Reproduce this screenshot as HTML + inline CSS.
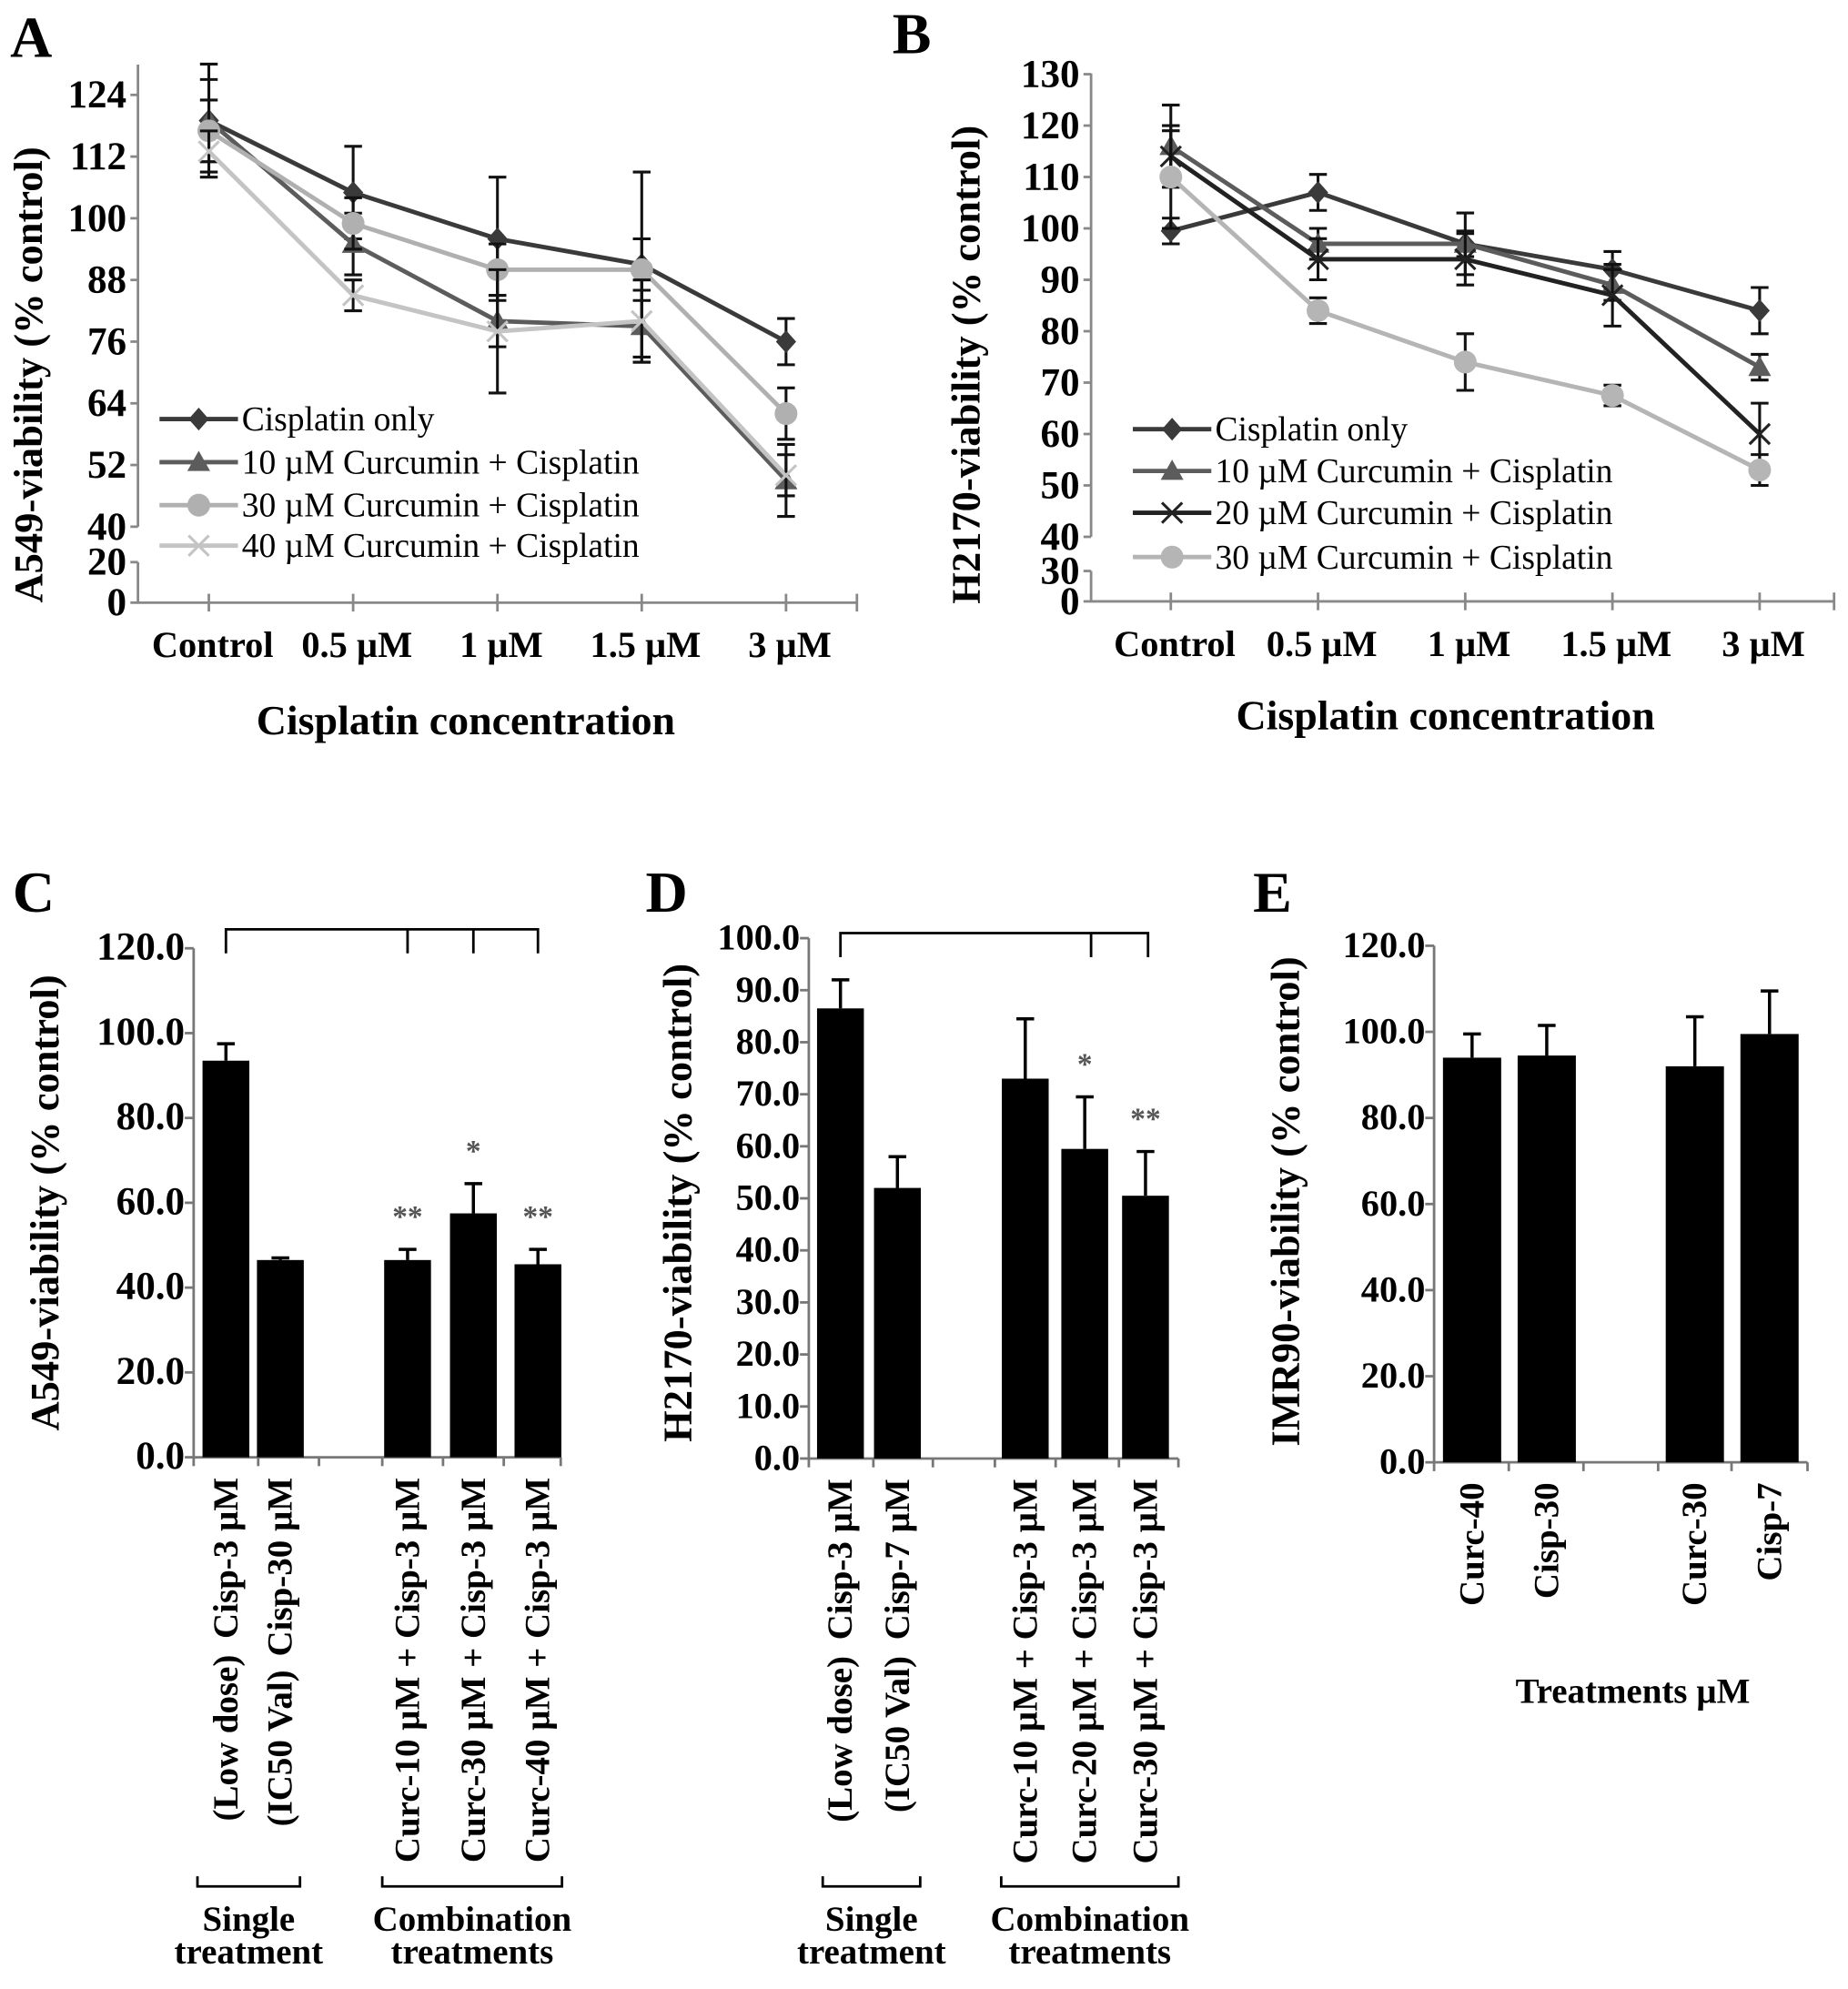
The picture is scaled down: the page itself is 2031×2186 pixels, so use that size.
<!DOCTYPE html>
<html><head><meta charset="utf-8"><style>
html,body{margin:0;padding:0;background:#fff}
svg{display:block}
text{font-family:"Liberation Serif",serif;font-weight:bold;fill:#000}
</style></head><body>
<svg id="fig" width="2031" height="2186" viewBox="0 0 1460 1571" preserveAspectRatio="none" xmlns="http://www.w3.org/2000/svg">
<text x="8" y="45" font-size="46">A</text>
<text x="705" y="42" font-size="46">B</text>
<text x="10" y="720" font-size="46">C</text>
<text x="510" y="720" font-size="46">D</text>
<text x="990" y="720" font-size="46">E</text>
</svg>
<script>
// ---- Panel A data ----
const aCategories = ["Control","0.5 µM","1 µM","1.5 µM","3 µM"];
const aTicks = [124,112,100,88,76,64,52,40,20,0];
const aSeriesNames = ["Cisplatin only","10 µM Curcumin + Cisplatin","30 µM Curcumin + Cisplatin","40 µM Curcumin + Cisplatin"];
const aCis = [119,105,96,91,76];
const aCisErr = [11,9,12,18,4.5];
const aC10 = [119,95,80,79,49];
const aC10Err = [8,6,5,7,7];
const aC30 = [117,99,90,90,62];
const aC30Err = [6,5,5,6,5];
const aC40 = [113,85,78,80,50];
const aC40Err = [4,3,12,8,4];
// ---- Panel B data ----
const bCategories = ["Control","0.5 µM","1 µM","1.5 µM","3 µM"];
const bTicks = [130,120,110,100,90,80,70,60,50,40,30,0];
const bSeriesNames = ["Cisplatin only","10 µM Curcumin + Cisplatin","20 µM Curcumin + Cisplatin","30 µM Curcumin + Cisplatin"];
const bCis = [99.5,107,97,92,84];
const bCisErr = [2.5,3.5,2.5,3.5,4.5];
const bC10 = [116,97,97,89,73];
const bC10Err = [8,3,6,3,2.5];
const bC20 = [114,94,94,87,60];
const bC20Err = [5,4,5,6,6];
const bC30 = [110,84,74,67.5,53];
const bC30Err = [10,2.5,5.5,2,3];
// ---- Panel C data ----
const cLabels = ["Cisp-3 µM","Cisp-30 µM","Curc-10 µM + Cisp-3 µM","Curc-30 µM + Cisp-3 µM","Curc-40 µM + Cisp-3 µM"];
const cValues = [93.5,46.5,46.5,57.5,45.5];
const cErrors = [4,0.5,2.5,7,3.5];
const cStars = ["","","**","*","**"];
const cTicks = [0,20,40,60,80,100,120];
// ---- Panel D data ----
const dLabels = ["Cisp-3 µM","Cisp-7 µM","Curc-10 µM + Cisp-3 µM","Curc-20 µM + Cisp-3 µM","Curc-30 µM + Cisp-3 µM"];
const dValues = [86.5,52,73,59.5,50.5];
const dErrors = [5.5,6,11.5,10,8.5];
const dStars = ["","","","*","**"];
const dTicks = [0,10,20,30,40,50,60,70,80,90,100];
// ---- Panel E data ----
const eLabels = ["Curc-40","Cisp-30","Curc-30","Cisp-7"];
const eValues = [94,94.5,92,99.5];
const eErrors = [5.5,7,11.5,10];
const eTicks = [0,20,40,60,80,100,120];

const NS="http://www.w3.org/2000/svg";
const svg=document.getElementById('fig');
function mk(tag,attrs,parent){const e=document.createElementNS(NS,tag);for(const k in attrs)e.setAttribute(k,attrs[k]);(parent||svg).appendChild(e);return e;}

function marker(g,type,x,y,color,name){
  let m;
  if(type==='diamond') m=mk('polygon',{points:`${x},${y-9} ${x+8},${y} ${x},${y+9} ${x-8},${y}`,fill:color},g);
  else if(type==='triangle') m=mk('polygon',{points:`${x},${y-9} ${x+9},${y+7} ${x-9},${y+7}`,fill:color},g);
  else if(type==='circle') m=mk('circle',{cx:x,cy:y,r:9,fill:color},g);
  else { m=mk('path',{d:`M${x-8},${y-8}L${x+8},${y+8}M${x-8},${y+8}L${x+8},${y-8}`,stroke:color,'stroke-width':2.2,fill:'none'},g); }
  
  
}

function lineChart(cfg){
  const g=mk('g',{});
  
  
  const yv=cfg.yScale;
  const ax=mk('path',{d:`M${cfg.x0},${cfg.top}V${yv(cfg.breakHi)}M${cfg.x0},${yv(cfg.breakLo)}V${cfg.y0}H${cfg.xEnd}`,stroke:'#888','stroke-width':2,fill:'none'},g);
  
  
  cfg.ticks.forEach(t=>{
    const y=yv(t);
    const tk=mk('line',{x1:cfg.x0-6,x2:cfg.x0,y1:y,y2:y,stroke:'#888','stroke-width':2},g);
    
    
    const tl=mk('text',{x:cfg.x0-9,y:y+10,'font-size':31,'text-anchor':'end'},g);
    tl.textContent=t;
    
    
  });
  const xs=cfg.categories.map((c,i)=>cfg.cx0+i*cfg.cstep);
  xs.forEach((x,i)=>{
    const tk=mk('line',{x1:x,x2:x,y1:cfg.y0-7,y2:cfg.y0+7,stroke:'#888','stroke-width':2},g);
    
    
    const tl=mk('text',{x:x+3,y:cfg.y0+43,'font-size':29,'text-anchor':'middle'},g);
    tl.textContent=cfg.categories[i];
    
    
  });
  const et=mk('line',{x1:cfg.xEnd,x2:cfg.xEnd,y1:cfg.y0-7,y2:cfg.y0+7,stroke:'#888','stroke-width':2},g);
  
  
  cfg.series.forEach((s,si)=>{
    const pts=s.values.map((v,i)=>[xs[i],yv(v)]);
    const pl=mk('polyline',{points:pts.map(p=>p.join(',')).join(' '),stroke:s.color,'stroke-width':3.5,fill:'none'},g);
    
    
    s.values.forEach((v,i)=>{
      const yt=yv(v+s.err[i]), yb=yv(v-s.err[i]), x=xs[i];
      const eb=mk('path',{d:`M${x},${yt}V${yb}M${x-7},${yt}H${x+7}M${x-7},${yb}H${x+7}`,stroke:'#111','stroke-width':2.2,fill:'none'},g);
      
      
    });
    pts.forEach(p=>marker(g,s.marker,p[0],p[1],s.color,'point'));
    const ly=cfg.legY[si];
    const ll=mk('line',{x1:cfg.legX,x2:cfg.legX+62,y1:ly,y2:ly,stroke:s.color,'stroke-width':3.5},g);
    
    
    marker(g,s.marker,cfg.legX+31,ly,s.color,'legend-marker');
    const lt=mk('text',{x:cfg.legX+65,y:ly+9,'font-size':27,style:'font-weight:normal'},g);
    lt.textContent=s.label;
    
    
  });
  const yt=mk('text',{x:0,y:0,'font-size':32,'text-anchor':'middle',transform:`translate(${cfg.ylabX},${cfg.ylabY}) rotate(-90)`},g);
  yt.textContent=cfg.ylabel;
  
  
  const xt=mk('text',{x:cfg.xtX,y:cfg.xtY,'font-size':33,'text-anchor':'middle'},g);
  xt.textContent='Cisplatin concentration';
  
  
}

lineChart({name:'chart-a',x0:109,top:51,y0:476,xEnd:677,breakHi:40,breakLo:20,
  yScale:v=>v>=40?416-(v-40)*4.06:476-v*(476-444)/20,ticks:aTicks,categories:aCategories,cx0:165,cstep:114,
  series:[{label:aSeriesNames[0],values:aCis,err:aCisErr,color:'#3a3a3a',marker:'diamond'},
          {label:aSeriesNames[1],values:aC10,err:aC10Err,color:'#5c5c5c',marker:'triangle'},
          {label:aSeriesNames[2],values:aC30,err:aC30Err,color:'#b0b0b0',marker:'circle'},
          {label:aSeriesNames[3],values:aC40,err:aC40Err,color:'#c4c4c4',marker:'x'}],
  legX:126,legY:[331,365,399,431],ylabel:'A549-viability (% control)',ylabX:33,ylabY:296,xtX:368,xtY:580});

lineChart({name:'chart-b',x0:862,top:58,y0:475,xEnd:1449,breakHi:40,breakLo:30,
  yScale:v=>v>=40?424-(v-40)*4.06:475-v*(475-451)/30,ticks:bTicks,categories:bCategories,cx0:925,cstep:116.3,
  series:[{label:bSeriesNames[0],values:bCis,err:bCisErr,color:'#3a3a3a',marker:'diamond'},
          {label:bSeriesNames[1],values:bC10,err:bC10Err,color:'#5c5c5c',marker:'triangle'},
          {label:bSeriesNames[2],values:bC20,err:bC20Err,color:'#222',marker:'x'},
          {label:bSeriesNames[3],values:bC30,err:bC30Err,color:'#b5b5b5',marker:'circle'}],
  legX:895,legY:[339,372,405,440],ylabel:'H2170-viability (% control)',ylabX:774,ylabY:288,xtX:1142,xtY:576});

function barChart(cfg){
  const g=mk('g',{});
  
  
  const yv=v=>cfg.y0-(v-0)*(cfg.y0-cfg.yTop)/cfg.max;
  const ax=mk('path',{d:`M${cfg.x0},${yv(cfg.max)}V${cfg.y0}H${cfg.xEnd}`,stroke:'#777','stroke-width':2,fill:'none'},g);
  
  
  cfg.ticks.forEach(t=>{
    const y=yv(t);
    const tk=mk('line',{x1:cfg.x0-7,x2:cfg.x0,y1:y,y2:y,stroke:'#777','stroke-width':2},g);
    
    
    const tl=mk('text',{x:cfg.x0-7,y:y+9,'font-size':cfg.tickFont,'text-anchor':'end'},g);
    tl.textContent=t.toFixed(1);
    
    
  });
  cfg.bounds.forEach(b=>{
    const tk=mk('line',{x1:b,x2:b,y1:cfg.y0,y2:cfg.y0+7,stroke:'#777','stroke-width':2},g);
    
    
  });
  cfg.values.forEach((v,i)=>{
    const x=cfg.xs[i], w=cfg.barW;
    const r=mk('rect',{x:x-w/2,y:yv(v),width:w,height:cfg.y0-yv(v),fill:'#000'},g);
    
    
    const yt=yv(v+cfg.errors[i]);
    const eb=mk('path',{d:`M${x},${yv(v)}V${yt}M${x-7},${yt}H${x+7}`,stroke:'#000','stroke-width':2.5,fill:'none'},g);
    
    
    if(cfg.stars && cfg.stars[i]){
      const s=mk('text',{x:x,y:yt-18,'font-size':24,'text-anchor':'middle',style:'fill:#555'},g);
      s.textContent=cfg.stars[i];
      
      
    }
    const lt=mk('text',{x:0,y:0,'font-size':28,'text-anchor':'end',transform:`translate(${x+9},${cfg.y0+16}) rotate(-90)`},g);
    lt.textContent=cfg.labels[i];
    
    
  });
  const yt=mk('text',{x:0,y:0,'font-size':32,'text-anchor':'middle',transform:`translate(${cfg.ylabX},${cfg.ylabY}) rotate(-90)`},g);
  yt.textContent=cfg.ylabel;
  
  
  return {g,yv};
}

function groupAnnot(g,xs,y0,sub1,pre,bks,grp){
  sub1.forEach((s,i)=>{
    const t=mk('text',{x:0,y:0,'font-size':28,'text-anchor':'end',transform:`translate(${xs[i]+9},${y0+16+pre[i]}) rotate(-90)`},g);
    t.textContent=s;
    
    
  });
  bks.forEach((b,i)=>{
    const p=mk('path',{d:`M${b[0]},1482V1490H${b[1]}V1482`,stroke:'#000','stroke-width':2,fill:'none'},g);
    
    
    const c=(b[0]+b[1])/2;
    const t1=mk('text',{x:c,y:1525,'font-size':28,'text-anchor':'middle'},g);
    t1.textContent=grp[i][0];
    
    
    const t2=mk('text',{x:c,y:1551,'font-size':28,'text-anchor':'middle'},g);
    t2.textContent=grp[i][1];
    
    
  });
}
function topBracket(g,xs,yTop,yDrop){
  const p=mk('path',{d:`M${xs[0]},${yDrop}V${yTop}H${xs[xs.length-1]}V${yDrop}`+xs.slice(1,-1).map(x=>`M${x},${yTop}V${yDrop}`).join(''),stroke:'#000','stroke-width':2,fill:'none'},g);
  
  
}

const C=barChart({name:'chart-c',x0:153,y0:1151,yTop:749,max:120,xEnd:443,ticks:cTicks,values:cValues,errors:cErrors,stars:cStars,labels:cLabels,barW:37,tickFont:31,
  xs:[178.5,221.5,322,374,425],bounds:[153,204,252,302,350,398,443],ylabel:'A549-viability (% control)',ylabX:46,ylabY:950});
groupAnnot(C.g,[178.5,221.5],1151,['(Low dose)','(IC50 Val)'],[140,152],[[156,237],[302,444]],[['Single','treatment'],['Combination','treatments']]);
topBracket(C.g,[178.5,322,374,425],734,753);

const D=barChart({name:'chart-d',x0:639,y0:1152,yTop:741,max:100,xEnd:931,ticks:dTicks,values:dValues,errors:dErrors,stars:dStars,labels:dLabels,barW:37,tickFont:29,
  xs:[664,709,810,857,905],bounds:[639,690,737,786,834,884,931],ylabel:'H2170-viability (% control)',ylabX:546,ylabY:950});
groupAnnot(D.g,[664,709],1152,['(Low dose)','(IC50 Val)'],[140,140],[[650,727],[791,931]],[['Single','treatment'],['Combination','treatments']]);
topBracket(D.g,[664,862,907],737,756);

const E=barChart({name:'chart-e',x0:1133,y0:1155,yTop:747,max:120,xEnd:1428,ticks:eTicks,values:eValues,errors:eErrors,stars:null,labels:eLabels,barW:46,tickFont:29,
  xs:[1163,1222,1339,1398],bounds:[1133,1192,1251,1310,1368,1428],ylabel:'IMR90-viability (% control)',ylabX:1026,ylabY:949});
const et=mk('text',{x:1290,y:1345,'font-size':28,'text-anchor':'middle'},E.g);
et.textContent='Treatments µM';


</script>
</body></html>
